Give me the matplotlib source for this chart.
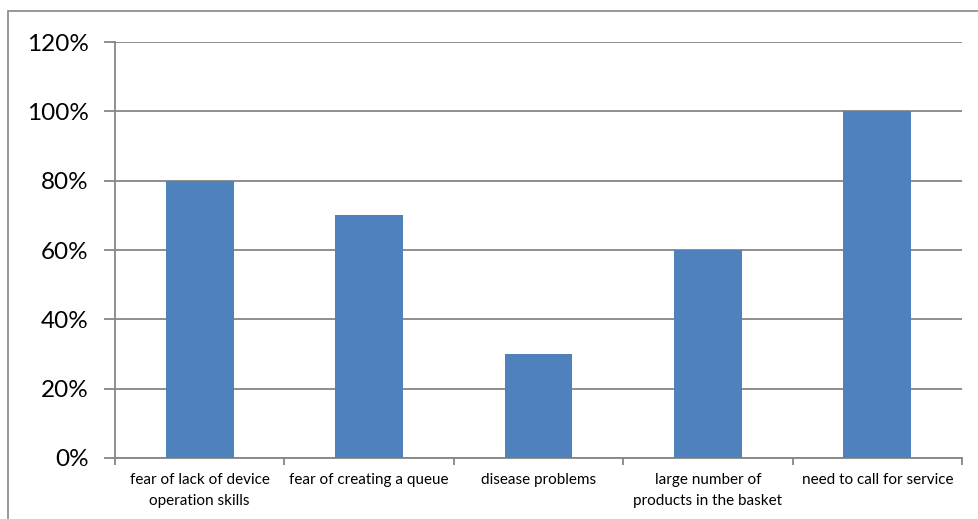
import matplotlib
matplotlib.use("Agg")
import matplotlib.pyplot as plt
from matplotlib.patches import Rectangle
from matplotlib.ticker import FuncFormatter

categories = ["fear of lack of device\noperation skills", "fear of creating a queue",
              "disease problems", "large number of\nproducts in the basket",
              "need to call for service"]
values = [80, 70, 30, 60, 100]
yticks = [0, 20, 40, 60, 80, 100, 120]

plt.rcParams['font.family'] = ['Lato', 'DejaVu Sans']
fig = plt.figure(figsize=(9.79, 5.19), dpi=100)
ax = fig.add_axes([115/979, 1-458/519, (962-115)/979, (458-42)/519])

grid_c = '#868686'
x = list(range(len(categories)))
ax.bar(x, values, width=0.4, color='#4F81BD', zorder=3)
ax.set_xlim(-0.5, len(categories)-0.5)
ax.set_ylim(0, 120)
ax.set_yticks(yticks)
ax.yaxis.set_major_formatter(FuncFormatter(lambda v, p: f"{int(v)}%"))
ax.yaxis.grid(True, color=grid_c, linewidth=1.3, zorder=0)
ax.set_xticks([i - 0.5 for i in range(len(categories)+1)])
ax.set_xticklabels([])
ax.set_xticks(x, minor=True)
ax.set_xticklabels(categories, minor=True, fontsize=11, linespacing=1.65)
ax.tick_params(axis='x', which='minor', length=0, pad=11)
ax.tick_params(axis='x', which='major', length=5, color=grid_c, width=1.3)
ax.tick_params(axis='y', length=8, color=grid_c, width=1.3, pad=11, labelsize=17.5)
for s in ['top', 'right']:
    ax.spines[s].set_visible(False)
for s in ['left', 'bottom']:
    ax.spines[s].set_color(grid_c)
    ax.spines[s].set_linewidth(1.3)

fig.patches.append(Rectangle((8/979, -0.1), 1.2, 1-11/519+0.1, transform=fig.transFigure,
                             fill=False, edgecolor='#868686', linewidth=1.2))
fig.savefig('out.png', dpi=100)
